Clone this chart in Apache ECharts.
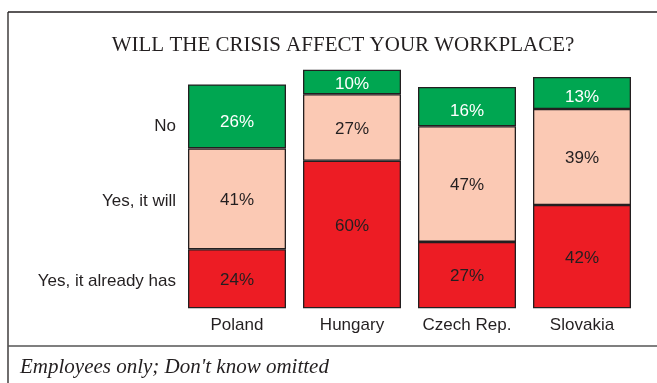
<!DOCTYPE html>
<html>
<head>
<meta charset="utf-8">
<script src="https://cdn.jsdelivr.net/npm/echarts@6/dist/echarts.min.js"></script>
<style>
  html, body { margin: 0; padding: 0; background: #fff; }
  #chart { width: 657px; height: 383px; }
</style>
</head>
<body>
<div id="chart"></div>
<script>
// Survey answers by country (percent of employees)
const countries = ['Poland', 'Hungary', 'Czech Rep.', 'Slovakia'];
const alreadyHas = [24, 60, 27, 42];
const willAffect = [41, 27, 47, 39];
const noEffect = [26, 10, 16, 13];
const answerLabels = ['No', 'Yes, it will', 'Yes, it already has'];

const TEXT = '#231f20';
const GREEN = '#00a651';
const PEACH = '#fbc9b4';
const RED = '#ed1c24';

// vertical nudges of the in-bar value labels, per country
const redLabelShift = [1.5, -8, 1.5, 1.5];
const peachLabelShift = [1.5, 1.5, 1.5, 1.5];
const greenLabelShift = [5.5, 2.5, 4.5, 4.5];

const chart = echarts.init(document.getElementById('chart'), null, { renderer: 'canvas' });

function seg(name, values, color, labelColor, shifts) {
  return {
    name: name,
    type: 'bar',
    stack: 'total',
    barWidth: 98,
    data: values.map((v, i) => ({ value: v, label: { offset: [0, shifts[i]] } })),
    itemStyle: { color: color, borderColor: TEXT, borderWidth: 1.3 },
    label: {
      show: true,
      position: 'inside',
      formatter: '{c}%',
      color: labelColor,
      fontFamily: 'Liberation Sans, Arial, sans-serif',
      fontSize: 17
    },
    emphasis: { disabled: true }
  };
}

const option = {
  animation: false,
  backgroundColor: '#fff',
  title: {
    text: 'WILL THE CRISIS AFFECT YOUR WORKPLACE?',
    left: 338,
    textAlign: 'center',
    top: 30,
    textStyle: {
      fontFamily: 'Liberation Serif, Times New Roman, serif',
      fontWeight: 'normal',
      fontSize: 21,
      color: TEXT
    }
  },
  grid: { left: 179.5, right: 17.5, top: 62.3, bottom: 74.7 },
  xAxis: {
    type: 'category',
    data: countries,
    axisLine: { show: false },
    axisTick: { show: false },
    axisLabel: {
      interval: 0,
      color: TEXT,
      fontFamily: 'Liberation Sans, Arial, sans-serif',
      fontSize: 17,
      margin: 9
    }
  },
  yAxis: {
    type: 'value',
    min: 0,
    max: 100,
    show: false,
    splitLine: { show: false }
  },
  series: [
    seg('Yes, it already has', alreadyHas, RED, TEXT, redLabelShift),
    seg('Yes, it will', willAffect, PEACH, TEXT, peachLabelShift),
    seg('No', noEffect, GREEN, '#fff', greenLabelShift)
  ],
  graphic: [
    // frame lines
    { type: 'line', shape: { x1: 8, y1: 12, x2: 657, y2: 12 }, style: { stroke: TEXT, lineWidth: 1.3 } },
    { type: 'line', shape: { x1: 8, y1: 12, x2: 8, y2: 383 }, style: { stroke: TEXT, lineWidth: 1.3 } },
    { type: 'line', shape: { x1: 8, y1: 346, x2: 657, y2: 346 }, style: { stroke: '#555', lineWidth: 1.5 } },
    // answer labels
    { type: 'text', x: 176, y: 126, style: { text: answerLabels[0], align: 'right', verticalAlign: 'middle', fill: TEXT, font: '17px "Liberation Sans", Arial, sans-serif' } },
    { type: 'text', x: 176, y: 201, style: { text: answerLabels[1], align: 'right', verticalAlign: 'middle', fill: TEXT, font: '17px "Liberation Sans", Arial, sans-serif' } },
    { type: 'text', x: 176, y: 281, style: { text: answerLabels[2], align: 'right', verticalAlign: 'middle', fill: TEXT, font: '17px "Liberation Sans", Arial, sans-serif' } },
    // footnote
    { type: 'text', x: 20, y: 367, style: { text: "Employees only; Don't know omitted", align: 'left', verticalAlign: 'middle', fill: TEXT, font: 'italic 21px "Liberation Serif", "Times New Roman", serif' } }
  ]
};

chart.setOption(option);
</script>
</body>
</html>
